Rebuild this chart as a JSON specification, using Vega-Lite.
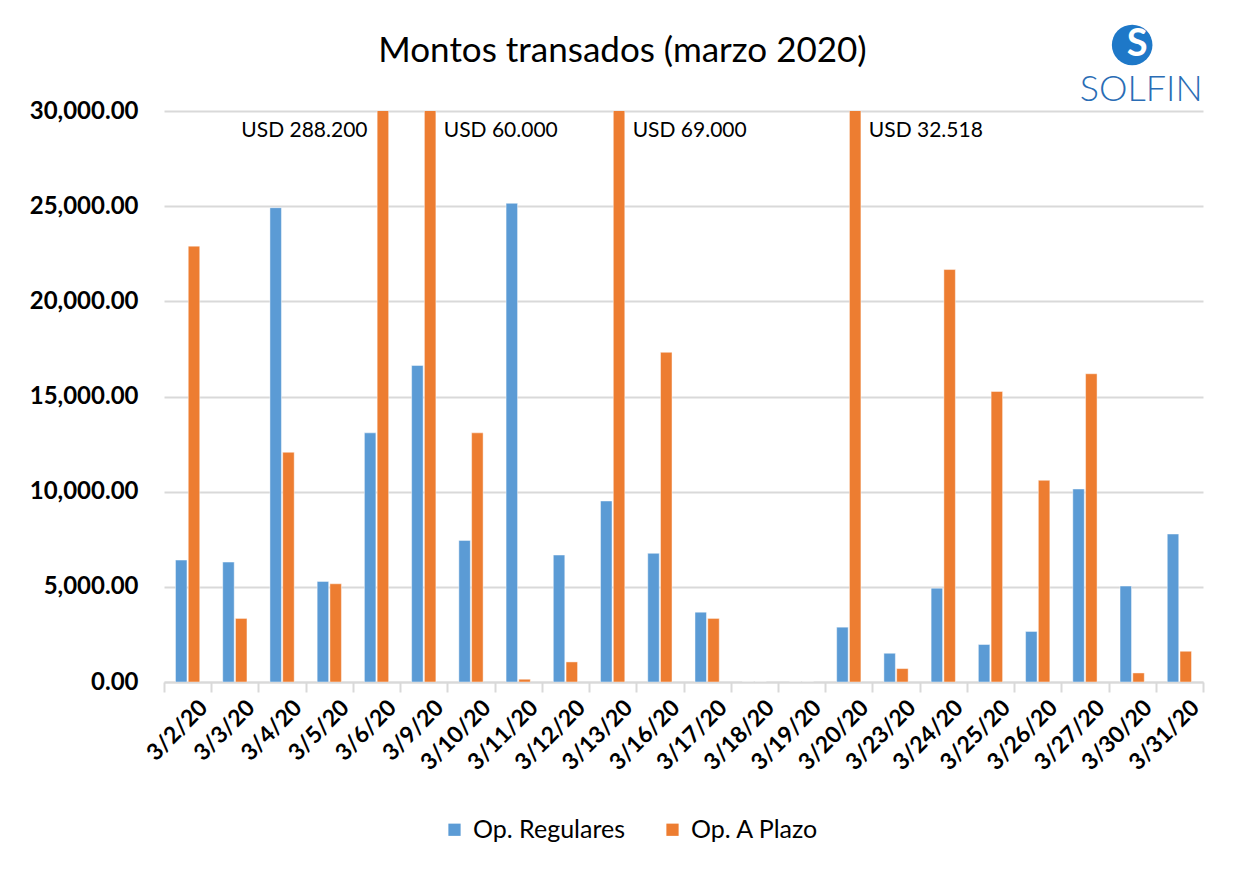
{
  "$schema": "https://vega.github.io/schema/vega-lite/v6.json",
  "width": 1039,
  "height": 571,
  "autosize": {"type": "none"},
  "padding": {"left": 164, "top": 111, "right": 39, "bottom": 188},
  "background": "white",
  "title": {
    "text": "Montos transados (marzo 2020)",
    "font": "Lato",
    "fontSize": 35,
    "fontWeight": "normal",
    "color": "#000000",
    "anchor": "middle",
    "frame": "group",
    "offset": -44,
    "dx": -61
  },
  "config": {
    "font": "Lato",
    "view": {"stroke": null},
    "axis": {"labelColor": "#000000", "titleColor": "#000000"}
  },
  "datasets": {
    "montos": [
      {"fecha": "3/2/20", "serie": "Op. Regulares", "monto": 6405},
      {"fecha": "3/2/20", "serie": "Op. A Plazo", "monto": 22900},
      {"fecha": "3/3/20", "serie": "Op. Regulares", "monto": 6300},
      {"fecha": "3/3/20", "serie": "Op. A Plazo", "monto": 3340},
      {"fecha": "3/4/20", "serie": "Op. Regulares", "monto": 24920},
      {"fecha": "3/4/20", "serie": "Op. A Plazo", "monto": 12070},
      {"fecha": "3/5/20", "serie": "Op. Regulares", "monto": 5285},
      {"fecha": "3/5/20", "serie": "Op. A Plazo", "monto": 5160},
      {"fecha": "3/6/20", "serie": "Op. Regulares", "monto": 13090},
      {"fecha": "3/6/20", "serie": "Op. A Plazo", "monto": 288200},
      {"fecha": "3/9/20", "serie": "Op. Regulares", "monto": 16630},
      {"fecha": "3/9/20", "serie": "Op. A Plazo", "monto": 60000},
      {"fecha": "3/10/20", "serie": "Op. Regulares", "monto": 7440},
      {"fecha": "3/10/20", "serie": "Op. A Plazo", "monto": 13090},
      {"fecha": "3/11/20", "serie": "Op. Regulares", "monto": 25150},
      {"fecha": "3/11/20", "serie": "Op. A Plazo", "monto": 145},
      {"fecha": "3/12/20", "serie": "Op. Regulares", "monto": 6670},
      {"fecha": "3/12/20", "serie": "Op. A Plazo", "monto": 1055},
      {"fecha": "3/13/20", "serie": "Op. Regulares", "monto": 9510},
      {"fecha": "3/13/20", "serie": "Op. A Plazo", "monto": 69000},
      {"fecha": "3/16/20", "serie": "Op. Regulares", "monto": 6760},
      {"fecha": "3/16/20", "serie": "Op. A Plazo", "monto": 17320},
      {"fecha": "3/17/20", "serie": "Op. Regulares", "monto": 3670},
      {"fecha": "3/17/20", "serie": "Op. A Plazo", "monto": 3340},
      {"fecha": "3/18/20", "serie": "Op. Regulares", "monto": 0},
      {"fecha": "3/18/20", "serie": "Op. A Plazo", "monto": 0},
      {"fecha": "3/19/20", "serie": "Op. Regulares", "monto": 0},
      {"fecha": "3/19/20", "serie": "Op. A Plazo", "monto": 0},
      {"fecha": "3/20/20", "serie": "Op. Regulares", "monto": 2880},
      {"fecha": "3/20/20", "serie": "Op. A Plazo", "monto": 32518},
      {"fecha": "3/23/20", "serie": "Op. Regulares", "monto": 1510},
      {"fecha": "3/23/20", "serie": "Op. A Plazo", "monto": 705},
      {"fecha": "3/24/20", "serie": "Op. Regulares", "monto": 4930},
      {"fecha": "3/24/20", "serie": "Op. A Plazo", "monto": 21670},
      {"fecha": "3/25/20", "serie": "Op. Regulares", "monto": 1970},
      {"fecha": "3/25/20", "serie": "Op. A Plazo", "monto": 15265},
      {"fecha": "3/26/20", "serie": "Op. Regulares", "monto": 2655},
      {"fecha": "3/26/20", "serie": "Op. A Plazo", "monto": 10595},
      {"fecha": "3/27/20", "serie": "Op. Regulares", "monto": 10140},
      {"fecha": "3/27/20", "serie": "Op. A Plazo", "monto": 16195},
      {"fecha": "3/30/20", "serie": "Op. Regulares", "monto": 5040},
      {"fecha": "3/30/20", "serie": "Op. A Plazo", "monto": 475},
      {"fecha": "3/31/20", "serie": "Op. Regulares", "monto": 7775},
      {"fecha": "3/31/20", "serie": "Op. A Plazo", "monto": 1615}
    ],
    "notas": [
      {"fecha": "3/6/20", "nota": "USD 288.200", "lado": "izq"},
      {"fecha": "3/9/20", "nota": "USD 60.000", "lado": "der"},
      {"fecha": "3/13/20", "nota": "USD 69.000", "lado": "der"},
      {"fecha": "3/20/20", "nota": "USD 32.518", "lado": "der"}
    ],
    "logo": [
      {"fecha": "3/30/20", "marca": "SOLFIN", "inicial": "S"}
    ]
  },
  "layer": [
    {
      "data": {"name": "montos"},
      "mark": {"type": "bar", "clip": true, "stroke": "#ffffff", "strokeWidth": 1, "strokeOpacity": 0.45},
      "encoding": {
        "x": {
          "field": "fecha",
          "type": "nominal",
          "sort": null,
          "scale": {"paddingInner": 0, "paddingOuter": 0},
          "axis": {
            "title": null,
            "labelAngle": -45,
            "labelFont": "Lato",
            "labelFontSize": 23,
            "labelFontWeight": "bold",
            "labelPadding": 4,
            "labelOffset": 8,
            "tickBand": "extent",
            "tickColor": "#d9d9d9",
            "tickWidth": 2,
            "tickSize": 10,
            "domainColor": "#d9d9d9",
            "domainWidth": 2,
            "grid": false
          }
        },
        "xOffset": {
          "field": "serie",
          "type": "nominal",
          "sort": ["Op. Regulares", "Op. A Plazo"],
          "scale": {"paddingInner": 0.1, "paddingOuter": 0.9}
        },
        "y": {
          "field": "monto",
          "type": "quantitative",
          "scale": {"domain": [0, 30000], "nice": false, "zero": true},
          "axis": {
            "title": null,
            "values": [0, 5000, 10000, 15000, 20000, 25000, 30000],
            "format": ",.2f",
            "labelFont": "Lato",
            "labelFontSize": 24,
            "labelFontWeight": "bold",
            "labelPadding": 26,
            "ticks": false,
            "domain": false,
            "grid": true,
            "gridColor": "#d9d9d9",
            "gridWidth": 1.8
          }
        },
        "color": {
          "field": "serie",
          "type": "nominal",
          "sort": ["Op. Regulares", "Op. A Plazo"],
          "scale": {"domain": ["Op. Regulares", "Op. A Plazo"], "range": ["#5b9bd5", "#ed7d31"]},
          "legend": {
            "title": null,
            "orient": "none",
            "direction": "horizontal",
            "legendX": 278,
            "legendY": 706,
            "symbolType": "square",
            "symbolSize": 150,
            "symbolStrokeWidth": 0,
            "labelFont": "Lato",
            "labelFontSize": 25,
            "labelColor": "#000000",
            "labelOffset": 6,
            "columnPadding": 34
          }
        }
      }
    },
    {
      "data": {"name": "notas"},
      "transform": [{"filter": "datum.lado === 'izq'"}],
      "mark": {"type": "text", "align": "right", "baseline": "middle", "dx": -9, "font": "Lato", "fontSize": 21, "color": "#000000"},
      "encoding": {
        "x": {"field": "fecha", "type": "nominal", "sort": null},
        "y": {"datum": 28950, "type": "quantitative"},
        "text": {"field": "nota", "type": "nominal"}
      }
    },
    {
      "data": {"name": "notas"},
      "transform": [{"filter": "datum.lado === 'der'"}],
      "mark": {"type": "text", "align": "left", "baseline": "middle", "dx": 20, "font": "Lato", "fontSize": 21, "color": "#000000"},
      "encoding": {
        "x": {"field": "fecha", "type": "nominal", "sort": null},
        "y": {"datum": 28950, "type": "quantitative"},
        "text": {"field": "nota", "type": "nominal"}
      }
    },
    {
      "data": {"name": "logo"},
      "mark": {"type": "point", "shape": "circle", "filled": true, "size": 1650, "color": "#1e78c8", "opacity": 1, "dx": 5},
      "encoding": {
        "x": {"field": "fecha", "type": "nominal", "sort": null},
        "y": {"datum": 33470, "type": "quantitative"}
      }
    },
    {
      "data": {"name": "logo"},
      "mark": {"type": "text", "align": "center", "baseline": "middle", "dx": 5, "font": "Lato", "fontSize": 38, "fontWeight": "bold", "color": "#ffffff"},
      "encoding": {
        "x": {"field": "fecha", "type": "nominal", "sort": null},
        "y": {"datum": 33470, "type": "quantitative"},
        "text": {"field": "inicial", "type": "nominal"}
      }
    },
    {
      "data": {"name": "logo"},
      "mark": {"type": "text", "align": "center", "baseline": "alphabetic", "dx": 9, "font": "Lato", "fontSize": 36, "fontWeight": 300, "color": "#2a6db5"},
      "encoding": {
        "x": {"field": "fecha", "type": "nominal", "sort": null},
        "y": {"datum": 30530, "type": "quantitative"},
        "text": {"field": "marca", "type": "nominal"}
      }
    }
  ]
}
